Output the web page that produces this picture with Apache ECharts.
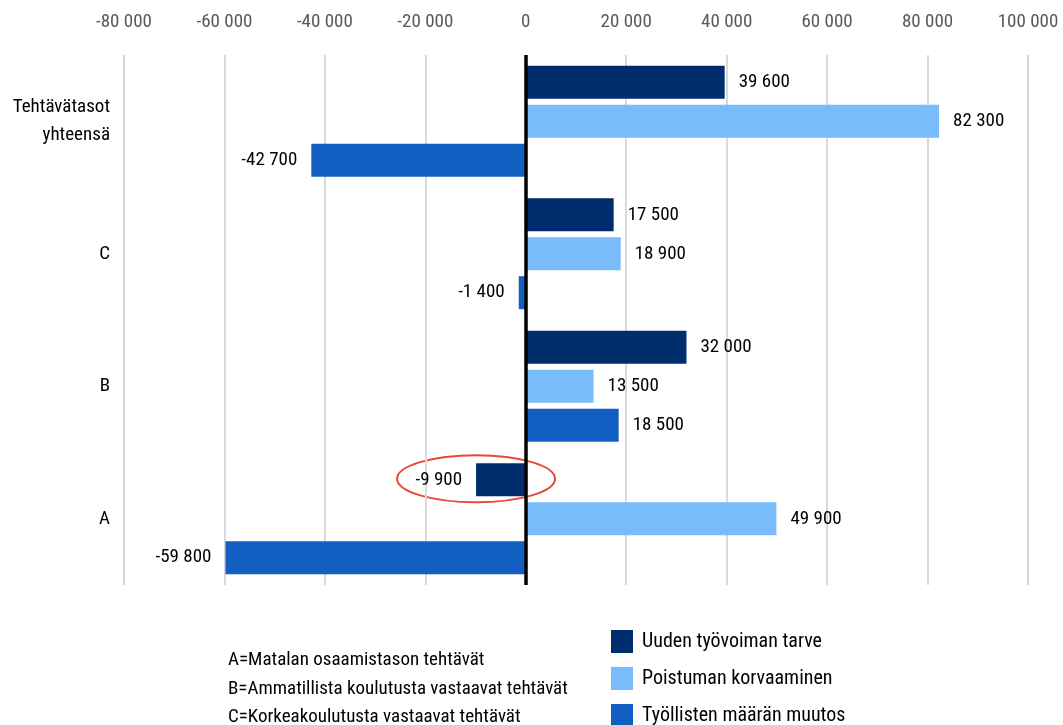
<!DOCTYPE html>
<html>
<head>
<meta charset="utf-8">
<script src="https://cdn.jsdelivr.net/npm/echarts@6/dist/echarts.min.js"></script>
<style>html,body{margin:0;padding:0;background:#fff}#c{width:1063px;height:725px}</style>
</head>
<body>
<div id="c"></div>
<script>
var categories = ['Tehtävätasot\nyhteensä', 'C', 'B', 'A'];
var seriesNames = ['Uuden työvoiman tarve', 'Poistuman korvaaminen', 'Työllisten määrän muutos'];
var uusiTarve = [39600, 17500, 32000, -9900];
var poistuma = [82300, 18900, 13500, 49900];
var muutos = [-42700, -1400, 18500, -59800];
var colors = ['#002d6d', '#79bcfc', '#135ec1'];
var footLines = ['A=Matalan osaamistason tehtävät', 'B=Ammatillista koulutusta vastaavat tehtävät', 'C=Korkeakoulutusta vastaavat tehtävät'];

var FONT = "'Roboto Condensed', 'Liberation Sans Narrow', sans-serif";

function fmt(v) {
  var s = Math.abs(v).toString().replace(/\B(?=(\d{3})+(?!\d))/g, ' ');
  return (v < 0 ? '-' : '') + s;
}
function mkData(arr) {
  return arr.map(function (v) {
    return { value: v, label: { position: v < 0 ? 'left' : 'right' } };
  });
}
var all = [uusiTarve, poistuma, muutos];
var series = all.map(function (arr, i) {
  var s = {
    name: seriesNames[i],
    type: 'bar',
    data: mkData(arr),
    barWidth: 33,
    barGap: '18%',
    itemStyle: { color: colors[i] },
    label: {
      show: true, distance: 14,
      formatter: function (p) { return fmt(p.value); },
      fontFamily: FONT, fontSize: 19, color: '#000'
    }
  };
  if (i === 0) {
    s.markLine = {
      silent: true, symbol: 'none', label: { show: false },
      lineStyle: { color: '#000', width: 3.5, type: 'solid' },
      data: [{ xAxis: 0 }]
    };
  }
  return s;
});

var chart = echarts.init(document.getElementById('c'));
var foot = {
  type: 'text', left: 228, top: 646,
  style: { text: footLines.join('\n'), fontFamily: FONT, fontSize: 19, lineHeight: 28.5, fill: '#000' }
};
chart.setOption({
  animation: false,
  textStyle: { fontFamily: FONT },
  grid: { left: 124, right: 35, top: 55, bottom: 140 },
  xAxis: {
    type: 'value', position: 'top', min: -80000, max: 100000, interval: 20000,
    axisLine: { show: false }, axisTick: { show: false },
    splitLine: { lineStyle: { color: '#d9d9d9', width: 2 } },
    axisLabel: { formatter: fmt, fontFamily: FONT, fontSize: 19, color: '#595959', margin: 23 }
  },
  yAxis: {
    type: 'category', data: categories, inverse: true,
    axisLine: { show: false }, axisTick: { show: false },
    axisLabel: { fontFamily: FONT, fontSize: 19, color: '#000', margin: 14, lineHeight: 28, align: 'right' }
  },
  legend: {
    orient: 'vertical', left: 611, top: 630, height: 140, padding: 0,
    itemWidth: 22, itemHeight: 23, itemGap: 14,
    icon: 'rect',
    textStyle: { fontFamily: FONT, fontSize: 20, color: '#000', padding: [0, 0, 0, 4] },
    data: seriesNames
  },
  graphic: [foot],
  series: series
});

// annotation ellipse around the A / Uuden työvoiman tarve value
var p = chart.convertToPixel({ gridIndex: 0 }, [uusiTarve[3], categories[3]]);
chart.setOption({
  graphic: [foot, {
    type: 'ellipse', silent: true,
    shape: { cx: p[0], cy: p[1] - 40, rx: 79, ry: 23.5 },
    style: { fill: 'none', stroke: '#e8483a', lineWidth: 2 }
  }]
});
</script>
</body>
</html>
